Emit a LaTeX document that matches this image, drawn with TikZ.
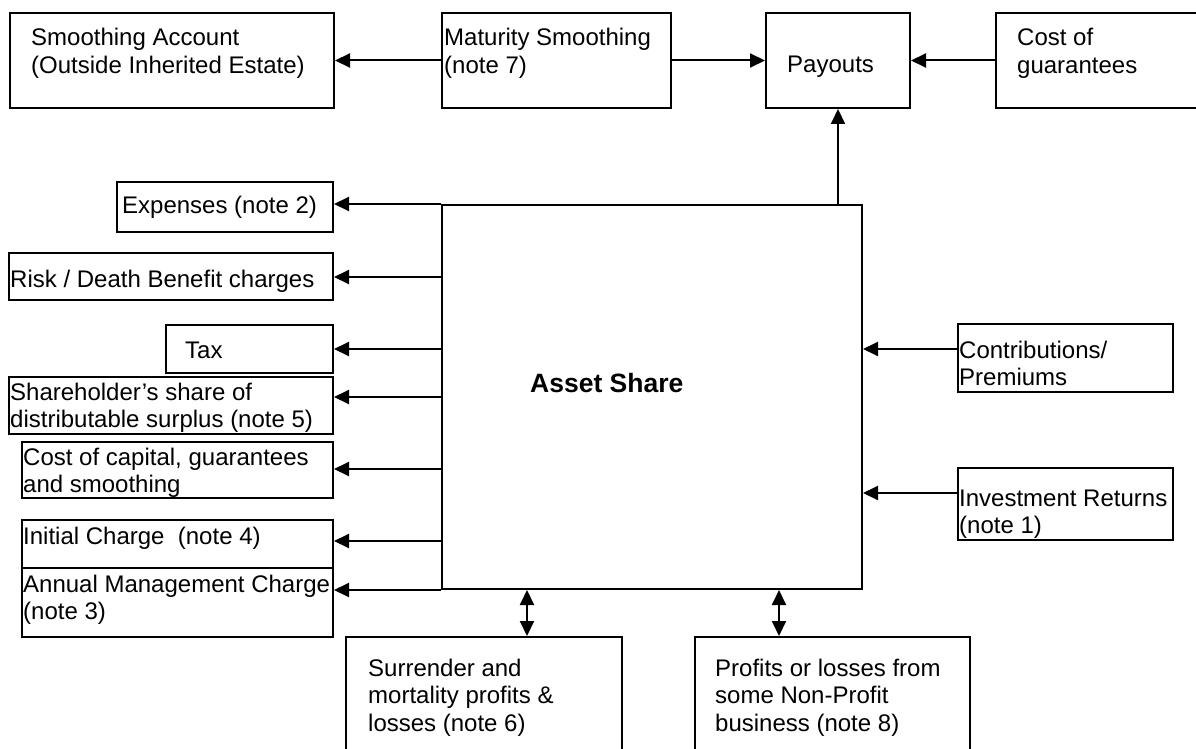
\documentclass[tikz,border=0pt]{standalone}
\usepackage{fontspec}
\setmainfont{Liberation Sans}
\usetikzlibrary{arrows.meta,fit}
\newcommand{\mlines}[1]{\begin{tabular}[t]{@{}l@{}}#1\end{tabular}}
\begin{document}
\begin{tikzpicture}[x=1pt,y=-1pt,
 box/.style={draw,line width=2pt,inner sep=0pt},
 txt/.style={anchor=base west,inner sep=0pt,font=\fontsize{24}{27.5}\selectfont},
 big/.style={anchor=base west,inner sep=0pt,font=\fontsize{26.5}{30}\selectfont\bfseries},
 arr/.style={line width=2pt,-{Triangle[length=15pt,width=14pt]}},
 darr/.style={line width=2pt,{Triangle[length=15pt,width=14pt]}-{Triangle[length=15pt,width=14pt]}}]
\useasboundingbox (0,0) rectangle (1196,749);
% top row
\node[box,fit={(10,13) (334,108)}] (smooth) {};
\node[box,fit={(442,13) (671,108)}] (mat) {};
\node[box,fit={(766,13) (910,108)}] (pay) {};
\node[box,fit={(996,13) (1205,108)}] (cost) {};
\node[txt] (smoothT) at (31,46) {\mlines{Smoothing Account\\(Outside Inherited Estate)}};
\node[txt] (matT) at (444,46) {\mlines{Maturity Smoothing\\(note 7)}};
\node[txt] (payT) at (787,73) {Payouts};
\node[txt] (costT) at (1017,46) {\mlines{Cost of\\guarantees}};
% central
\node[box,fit={(442,205) (862,589)}] (asset) {};
\node[big] (assetT) at (530,392) {Asset Share};
% left column
\node[box,fit={(117,182) (333,232)}] (exp) {};
\node[box,fit={(9,253) (333,300)}] (risk) {};
\node[box,fit={(166,325) (333,373)}] (tax) {};
\node[box,fit={(9,377) (333,434)}] (share) {};
\node[box,fit={(22,442) (333,498)}] (capc) {};
\node[box,fit={(22,520) (333,568)}] (init) {};
\node[box,fit={(22,568) (333,637)}] (amc) {};
\node[txt] (expT) at (122,213) {Expenses (note 2)};
\node[txt] (riskT) at (10,287) {Risk / Death Benefit charges};
\node[txt] (taxT) at (185,358) {Tax};
\node[txt] (shareT) at (10,400) {\mlines{Shareholder’s share of\\distributable surplus (note 5)}};
\node[txt] (capcT) at (23,465) {\mlines{Cost of capital, guarantees\\and smoothing}};
\node[txt] (initT) at (23,544) {Initial Charge\ \ (note 4)};
\node[txt] (amcT) at (23,592) {\mlines{Annual Management Charge\\(note 3)}};
% right column
\node[box,fit={(958,324) (1173,392)}] (contr) {};
\node[box,fit={(958,468) (1173,540)}] (inv) {};
\node[txt] (contrT) at (959,358) {\mlines{Contributions/\\Premiums}};
\node[txt] (invT) at (959,506) {\mlines{Investment Returns\\(note 1)}};
% bottom
\node[box,fit={(346,637) (622,760)}] (surr) {};
\node[box,fit={(695,637) (970,760)}] (prof) {};
\node[txt] (surrT) at (368,676) {\mlines{Surrender and\\mortality profits \&\\losses (note 6)}};
\node[txt] (profT) at (715,676) {\mlines{Profits or losses from\\some Non-Profit\\business (note 8)}};
% connectors
\draw[arr] (mat.west) -- (smooth.east);
\draw[arr] (mat.east) -- (pay.west);
\draw[arr] (cost.west) -- (pay.east);
\draw[arr] (asset.north -| pay.south) -- (pay.south);
\draw[arr] (asset.north west) -- (exp.east |- asset.north west);
\draw[arr] (asset.west |- 0,277) -- (risk.east |- 0,277);
\draw[arr] (asset.west |- 0,349) -- (tax.east |- 0,349);
\draw[arr] (asset.west |- 0,397) -- (share.east |- 0,397);
\draw[arr] (asset.west |- 0,469) -- (capc.east |- 0,469);
\draw[arr] (asset.west |- 0,541) -- (init.east |- 0,541);
\draw[arr] (asset.south west) -- (amc.east |- asset.south west);
\draw[arr] (contr.west |- 0,349) -- (asset.east |- 0,349);
\draw[arr] (inv.west |- 0,493) -- (asset.east |- 0,493);
\draw[darr] (asset.south -| 527,0) -- (surr.north -| 527,0);
\draw[darr] (asset.south -| 779,0) -- (prof.north -| 779,0);
\end{tikzpicture}
\end{document}
